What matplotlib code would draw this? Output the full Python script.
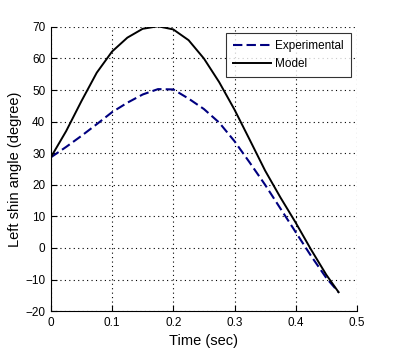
import matplotlib
matplotlib.use("Agg")
import matplotlib.pyplot as plt

# time samples (sec)
time = [0, 0.025, 0.05, 0.075, 0.1, 0.125, 0.15, 0.175, 0.2, 0.225,
        0.25, 0.275, 0.3, 0.325, 0.35, 0.375, 0.4, 0.425, 0.45, 0.47]
# left shin angle (degree)
experimental = [28.7, 32, 35.5, 39.2, 43, 46, 48.6, 50.3, 50.2, 47.3,
                44, 39.7, 33.8, 27, 20, 12.5, 5, -2.5, -9.5, -14]
model = [28.7, 37, 46.5, 55.5, 62.2, 66.6, 69.4, 70.2, 69.2, 65.8,
         60, 52.5, 43.8, 34.2, 24.5, 16, 8, -0.5, -8.5, -14]

plt.rcParams['font.family'] = ['Liberation Sans', 'DejaVu Sans']

fig = plt.figure(figsize=(3.94, 3.54), dpi=100)
ax = fig.add_axes([0.129, 0.121, 0.777, 0.803])

ax.plot(time, experimental, '--', color='#000080', linewidth=1.5,
        dashes=(4.5, 2), label='Experimental')
ax.plot(time, model, '-', color='black', linewidth=1.4, label='Model')

ax.set_xlim(0, 0.5)
ax.set_ylim(-20, 70)
ax.set_xticks([0, 0.1, 0.2, 0.3, 0.4, 0.5])
ax.set_xticklabels(['0', '0.1', '0.2', '0.3', '0.4', '0.5'])
ax.set_yticks(range(-20, 71, 10))
ax.grid(True, linestyle=(0, (1, 3)), color='black', linewidth=0.8)
ax.tick_params(direction='in', labelsize=8.5, length=4, pad=4)
for s in ['top', 'right']:
    ax.spines[s].set_visible(False)

ax.set_xlabel('Time (sec)', fontsize=10.5, labelpad=4)
ax.set_ylabel('Left shin angle (degree)', fontsize=10.5, labelpad=2)

leg = ax.legend(loc='upper right', fontsize=8.5, frameon=True, fancybox=False,
                edgecolor='black', handlelength=3.2, handletextpad=0.4,
                labelspacing=0.55, borderpad=0.6, borderaxespad=0.5)
leg.get_frame().set_linewidth(0.8)

fig.savefig('out.png', dpi=100)
